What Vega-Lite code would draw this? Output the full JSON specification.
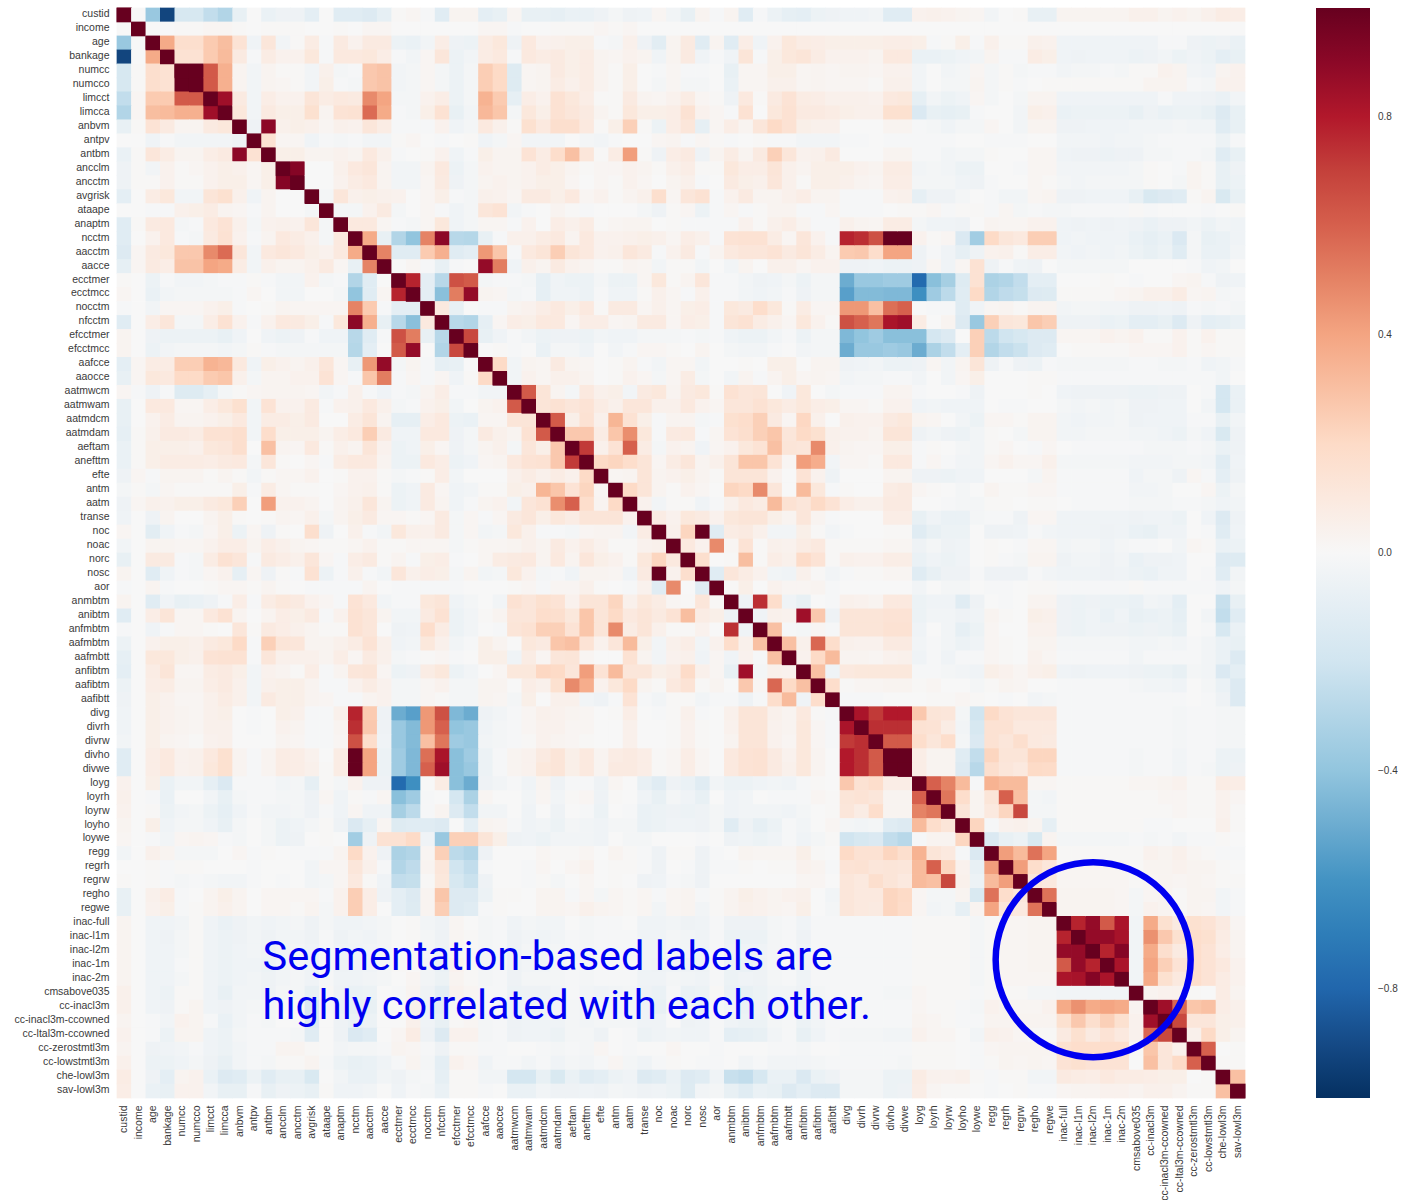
{"$schema":"https://vega.github.io/schema/vega-lite/v6.json","width":1128,"height":1090,"padding":{"left":13,"top":7,"right":0,"bottom":0},"background":"white",
"datasets":{"names":[{"j":1,"col":"custid"},{"j":2,"col":"income"},{"j":3,"col":"age"},{"j":4,"col":"bankage"},{"j":5,"col":"numcc"},{"j":6,"col":"numcco"},{"j":7,"col":"limcct"},{"j":8,"col":"limcca"},{"j":9,"col":"anbvm"},{"j":10,"col":"antpv"},{"j":11,"col":"antbm"},{"j":12,"col":"ancclm"},{"j":13,"col":"ancctm"},{"j":14,"col":"avgrisk"},{"j":15,"col":"ataape"},{"j":16,"col":"anaptm"},{"j":17,"col":"ncctm"},{"j":18,"col":"aacctm"},{"j":19,"col":"aacce"},{"j":20,"col":"ecctmer"},{"j":21,"col":"ecctmcc"},{"j":22,"col":"nocctm"},{"j":23,"col":"nfcctm"},{"j":24,"col":"efcctmer"},{"j":25,"col":"efcctmcc"},{"j":26,"col":"aafcce"},{"j":27,"col":"aaocce"},{"j":28,"col":"aatmwcm"},{"j":29,"col":"aatmwam"},{"j":30,"col":"aatmdcm"},{"j":31,"col":"aatmdam"},{"j":32,"col":"aeftam"},{"j":33,"col":"anefttm"},{"j":34,"col":"efte"},{"j":35,"col":"antm"},{"j":36,"col":"aatm"},{"j":37,"col":"transe"},{"j":38,"col":"noc"},{"j":39,"col":"noac"},{"j":40,"col":"norc"},{"j":41,"col":"nosc"},{"j":42,"col":"aor"},{"j":43,"col":"anmbtm"},{"j":44,"col":"anibtm"},{"j":45,"col":"anfmbtm"},{"j":46,"col":"aafmbtm"},{"j":47,"col":"aafmbtt"},{"j":48,"col":"anfibtm"},{"j":49,"col":"aafibtm"},{"j":50,"col":"aafibtt"},{"j":51,"col":"divg"},{"j":52,"col":"divrh"},{"j":53,"col":"divrw"},{"j":54,"col":"divho"},{"j":55,"col":"divwe"},{"j":56,"col":"loyg"},{"j":57,"col":"loyrh"},{"j":58,"col":"loyrw"},{"j":59,"col":"loyho"},{"j":60,"col":"loywe"},{"j":61,"col":"regg"},{"j":62,"col":"regrh"},{"j":63,"col":"regrw"},{"j":64,"col":"regho"},{"j":65,"col":"regwe"},{"j":66,"col":"inac-full"},{"j":67,"col":"inac-l1m"},{"j":68,"col":"inac-l2m"},{"j":69,"col":"inac-1m"},{"j":70,"col":"inac-2m"},{"j":71,"col":"cmsabove035"},{"j":72,"col":"cc-inacl3m"},{"j":73,"col":"cc-inacl3m-ccowned"},{"j":74,"col":"cc-ltal3m-ccowned"},{"j":75,"col":"cc-zerostmtl3m"},{"j":76,"col":"cc-lowstmtl3m"},{"j":77,"col":"che-lowl3m"},{"j":78,"col":"sav-lowl3m"}],
"matrix":[
{"row":"custid","v":[100]},
{"row":"income","v":[0,100]},
{"row":"age","v":[-38,0,100]},
{"row":"bankage","v":[-92,0,38,100]},
{"row":"numcc","v":[-17,1,17,15,100]},
{"row":"numcco","v":[-17,1,17,15,100,100]},
{"row":"limcct","v":[-25,2,26,26,62,62,100]},
{"row":"limcca","v":[-30,2,31,32,36,36,85,100]},
{"row":"anbvm","v":[-8,1,14,9,3,3,9,11,100]},
{"row":"antpv","v":[0,0,-4,-1,-3,-3,-3,-3,-5,100]},
{"row":"antbm","v":[-7,1,12,8,3,3,7,9,90,15,100]},
{"row":"ancclm","v":[-5,1,-3,4,1,2,4,6,5,2,6,100]},
{"row":"ancctm","v":[-5,1,1,4,1,1,4,6,6,2,6,92,100]},
{"row":"avgrisk","v":[-10,0,8,11,-3,-3,13,16,5,-4,3,0,0,100]},
{"row":"ataape","v":[0,0,-1,-1,5,6,8,3,2,-1,3,0,0,-2,100]},
{"row":"anaptm","v":[-12,1,9,10,-2,-1,10,14,5,-2,4,5,4,12,-2,100]},
{"row":"ncctm","v":[-12,0,4,10,-1,-2,9,15,4,-1,3,10,8,5,-2,10,100]},
{"row":"aacctm","v":[-14,2,9,11,27,27,48,57,12,-3,10,12,10,6,4,10,38,100]},
{"row":"aacce","v":[-9,2,9,7,29,29,40,38,8,-3,5,3,3,5,9,2,-8,50,100]},
{"row":"ecctmer","v":[1,0,-6,-1,-3,-3,-2,-1,-1,1,-1,-3,-3,4,-2,-1,-30,-12,0,100]},
{"row":"ecctmcc","v":[2,0,-7,-3,-2,-2,-2,-2,-1,2,0,-3,-3,0,0,-2,-40,-12,2,78,100]},
{"row":"nocctm","v":[-1,0,-3,2,2,2,4,6,-1,0,1,3,2,2,2,2,50,26,-1,-10,-10,100]},
{"row":"nfcctm","v":[-12,0,7,12,-2,-2,7,15,4,-1,4,10,9,6,-1,11,90,36,-8,-28,-42,10,100]},
{"row":"efcctmer","v":[3,0,-5,-6,-6,-6,-6,-8,-4,0,-4,-6,-5,-1,-4,-4,-28,-12,-1,65,52,-8,-28,100]},
{"row":"efcctmcc","v":[3,0,-6,-3,-2,-2,-2,-3,-2,1,-1,-2,-2,-2,-2,-2,-29,-10,0,62,88,0,-30,68,100]},
{"row":"aafcce","v":[-10,2,8,8,25,25,35,33,10,-4,6,4,3,5,12,2,-8,44,88,-2,3,-1,-9,-8,0,100]},
{"row":"aaocce","v":[-8,2,11,10,20,20,26,28,5,-2,3,3,4,4,14,2,-1,28,52,-1,2,-1,2,-4,1,20,100]},
{"row":"aatmwcm","v":[2,-1,-5,-1,-13,-13,-9,-2,1,2,3,3,3,2,-3,-1,5,-1,-4,-1,-2,3,7,-1,-1,-3,-3,100]},
{"row":"aatmwam","v":[-8,0,10,10,2,2,7,11,16,-3,14,4,4,9,-1,4,5,10,5,-2,-1,4,6,-3,0,3,4,62,100]},
{"row":"aatmdcm","v":[-8,0,4,8,3,3,4,6,10,-3,8,8,6,9,0,0,8,13,3,-9,-9,7,10,-6,-7,2,2,13,13,100]},
{"row":"aatmdam","v":[-9,1,5,9,9,8,15,15,17,-3,18,6,6,6,3,7,10,25,9,-4,-4,10,10,-5,-2,9,5,3,15,62,100]},
{"row":"aeftam","v":[-7,1,6,6,6,5,11,12,17,0,30,3,2,10,1,5,3,13,4,-6,-4,6,2,-5,-2,3,5,-2,12,6,27,100]},
{"row":"anefttm","v":[-7,1,6,8,8,8,7,9,10,-2,12,1,0,2,-1,8,10,10,3,-6,-6,10,7,-6,-4,2,3,10,14,15,27,72,100]},
{"row":"efte","v":[-5,2,-1,3,3,3,1,3,1,-3,1,2,2,4,0,1,4,4,1,-2,-1,1,7,-3,0,0,0,5,8,5,8,5,20,100]},
{"row":"antm","v":[-2,1,-2,2,1,1,1,1,6,-1,8,2,1,1,0,2,4,5,1,-6,-4,9,2,-4,-3,1,1,6,5,34,28,14,22,2,100]},
{"row":"aatm","v":[-5,2,5,4,6,6,9,11,24,0,42,4,4,3,0,3,5,12,3,-6,-4,9,3,-4,-1,3,4,-3,12,15,47,60,18,3,20,100]},
{"row":"transe","v":[-4,0,-5,3,0,0,3,6,1,0,1,3,2,5,-2,3,6,9,2,2,1,2,9,-2,2,-1,2,9,12,6,11,8,13,13,13,4,100]},
{"row":"noc","v":[2,0,-11,-4,-1,-2,2,6,-6,2,-5,1,0,17,-5,0,5,-1,-3,11,5,5,9,-2,2,-3,-2,11,5,-1,-1,-2,2,3,3,-3,8,100]},
{"row":"noac","v":[-3,0,3,3,2,2,4,7,7,3,7,5,3,2,1,1,2,4,1,1,2,2,2,-2,1,2,2,3,5,3,9,4,8,4,1,1,4,5,100]},
{"row":"norc","v":[-8,0,9,9,-1,-2,8,15,12,-1,9,7,5,12,2,-1,7,9,1,3,-1,6,7,-1,0,2,8,9,10,3,10,3,12,6,4,1,11,22,10,100]},
{"row":"nosc","v":[3,0,-12,-4,-1,-2,2,4,-9,2,-5,1,-1,15,-6,-1,5,-1,-3,12,5,7,6,-2,3,-3,-2,11,4,-2,-1,-4,3,3,2,-4,9,100,4,17,100]},
{"row":"aor","v":[-1,0,3,-1,0,0,1,2,2,1,3,1,0,-1,-1,-1,-1,3,0,-1,-1,-1,-1,-1,0,0,0,1,2,-1,2,2,5,1,0,-1,4,-12,48,0,-12,100]},
{"row":"anmbtm","v":[3,0,-12,-4,-8,-7,-5,-1,7,-1,8,11,9,4,2,-1,14,10,-3,-1,-1,11,13,-4,-2,0,-3,15,12,16,14,4,13,13,22,5,11,8,2,1,12,1,100]},
{"row":"anibtm","v":[-12,0,7,13,2,2,10,15,3,0,3,7,6,9,-1,4,15,12,3,-3,-3,9,15,-6,-3,1,3,12,12,18,17,11,28,13,20,10,13,9,14,31,8,6,-5,100]},
{"row":"anfmbtm","v":[-1,0,-4,-1,2,2,1,0,12,1,9,7,5,3,1,1,15,12,0,-5,-4,18,8,-6,-3,0,-1,13,15,24,24,14,28,13,48,8,13,5,1,1,4,0,75,-4,100]},
{"row":"aafmbtm","v":[-6,0,4,6,6,5,9,11,20,-1,24,13,12,3,3,5,8,14,5,-4,-3,11,5,-3,-1,6,3,0,11,9,28,30,14,4,12,32,6,-3,5,7,-3,4,18,5,30,100]},
{"row":"aafmbtt","v":[-9,0,11,11,6,5,14,15,15,-1,12,5,5,5,3,7,2,9,5,-2,-1,1,2,-1,0,6,6,-4,8,2,12,13,2,0,0,15,3,-3,4,5,-4,2,-4,4,-1,30,100]},
{"row":"anfibtm","v":[-10,0,8,13,2,2,8,9,6,-3,4,3,1,7,-1,3,12,13,2,-6,-5,8,11,-6,-3,0,2,11,11,21,20,12,42,14,32,12,12,6,8,19,5,2,-8,85,-2,5,4,100]},
{"row":"aafibtm","v":[-6,0,7,8,3,3,7,9,5,-3,5,6,6,3,-1,-1,4,8,4,-2,-2,2,4,-2,-2,3,3,0,7,5,16,48,37,4,11,20,3,1,10,14,1,3,0,27,2,58,20,30,100]},
{"row":"aafibtt","v":[-5,0,6,4,2,2,5,8,5,-3,9,6,6,3,2,-1,-1,3,4,-2,-2,2,1,-2,-2,3,2,-2,6,0,5,5,-3,-5,-1,14,-1,-3,1,1,-3,-1,-1,-5,-1,18,32,-4,18,100]},
{"row":"divg","v":[-4,0,6,4,3,2,5,6,0,-1,0,6,5,-1,-1,5,78,26,-5,-50,-55,44,65,-45,-50,-5,-3,-1,2,5,4,3,2,0,1,7,0,-1,1,5,-1,0,5,13,13,5,3,10,1,-1,100]},
{"row":"divrh","v":[-4,0,6,4,3,2,5,5,0,-1,0,4,3,-1,-1,3,75,27,-5,-38,-44,44,60,-40,-38,-4,-2,-1,2,4,4,2,2,0,0,5,0,0,1,4,1,0,4,13,13,4,3,11,2,-1,82,100]},
{"row":"divrw","v":[-3,0,6,3,2,1,4,5,0,0,0,3,2,-1,-1,2,65,18,-4,-38,-44,30,54,-36,-38,-3,-2,-1,1,4,3,2,1,0,0,5,0,0,1,4,1,0,3,13,13,4,2,11,2,-1,72,75,100]},
{"row":"divho","v":[-12,0,7,10,4,5,10,16,3,-1,3,8,7,4,0,8,100,40,-6,-36,-45,56,82,-42,-36,-6,-1,3,4,9,13,6,10,3,8,9,7,1,2,7,2,0,10,14,15,9,4,11,3,0,80,75,62,100]},
{"row":"divwe","v":[-12,0,7,10,4,5,11,16,3,-1,3,8,7,5,1,8,100,40,-6,-36,-45,60,85,-42,-38,-6,-1,3,4,11,13,6,10,3,9,9,7,1,2,7,2,0,10,14,15,9,5,11,3,0,80,75,62,100,100]},
{"row":"loyg","v":[4,0,6,-7,-3,-3,-9,-15,-1,-1,-1,-3,-2,-9,1,-2,4,-5,-5,-78,-62,0,8,-42,-50,-5,-3,-1,-4,3,-5,-1,-1,-5,2,0,-8,-12,-5,-7,-12,-3,-6,-6,-4,-3,-4,-1,1,0,27,15,18,7,7,100]},
{"row":"loyrh","v":[5,0,-1,-7,0,0,-3,-8,-2,-1,-1,-2,-2,-5,2,-4,1,-1,2,-42,-36,-1,0,-18,-32,2,0,0,-3,2,-3,1,2,-5,1,0,-4,-8,-2,-4,-8,0,-4,-3,0,-1,-1,-1,2,1,13,14,12,3,3,60,100]},
{"row":"loyrw","v":[4,0,1,-6,-3,-2,-6,-9,-4,-1,-3,-3,-2,-5,-1,-4,2,-4,-4,-34,-27,-1,3,-14,-25,-3,-3,0,-4,0,-5,0,-1,-6,0,-1,-7,-6,-5,-6,-5,-2,-4,-3,-3,-3,-4,-2,0,1,12,8,18,3,3,50,54,100]},
{"row":"loyho","v":[3,0,6,-4,-2,-2,-4,-8,-2,0,-2,-6,-4,-2,1,-5,-15,-9,2,-13,-12,-12,-14,0,-10,3,2,-1,-4,-3,-6,-2,-3,-4,-2,-2,-7,-6,-4,-4,-5,-2,-12,-5,-9,-6,-1,-3,0,2,-2,-3,-2,-12,-14,32,18,13,100]},
{"row":"loywe","v":[2,0,-1,-3,2,3,2,-1,-2,0,-2,-6,-5,0,1,0,-35,-5,15,15,20,-4,-38,24,24,13,6,-5,-4,-6,-3,-3,-3,-4,0,-2,-2,0,0,0,-1,0,-5,-4,-6,-4,-1,-4,-2,1,-20,-17,-15,-25,-28,-1,3,3,22,100]},
{"row":"regg","v":[-3,0,5,3,-2,-2,-2,0,2,-1,1,0,-1,-1,-1,3,20,4,-5,-32,-30,2,24,-27,-30,-5,0,0,0,2,1,1,2,0,3,1,-1,-5,1,1,-5,-1,0,3,2,2,2,6,1,0,20,15,15,22,17,35,13,10,-1,-15,100]},
{"row":"regrh","v":[0,0,1,-1,1,1,0,0,0,-1,0,0,0,-3,2,2,12,5,-1,-30,-26,3,12,-20,-25,-1,0,0,-1,2,0,2,4,0,1,1,-1,-5,0,-1,-5,-1,-1,1,0,1,1,4,3,-1,14,15,12,13,12,32,60,22,4,-8,42,100]},
{"row":"regrw","v":[1,0,1,-1,-2,-1,-2,-3,-3,-1,0,-1,0,-3,-2,2,10,1,-4,-25,-24,1,11,-17,-22,-5,0,0,-1,1,-2,0,2,0,1,0,-5,-4,-1,-2,-5,0,0,0,0,0,0,2,2,0,12,10,17,13,10,32,30,68,5,-6,32,42,100]},
{"row":"regho","v":[-8,0,5,8,-1,0,3,6,3,0,2,2,2,2,-1,4,25,7,-5,-10,-14,3,28,-14,-14,-6,1,1,0,3,3,-1,2,-2,2,1,2,-1,2,3,-1,1,3,6,4,3,4,5,0,-3,12,10,10,22,20,2,-2,-2,3,-16,55,18,12,100]},
{"row":"regwe","v":[-8,0,4,6,-1,1,3,5,3,0,2,2,1,3,-2,4,25,7,0,-10,-13,3,25,-14,-12,-1,1,0,0,3,3,2,5,3,2,1,2,-3,2,3,-3,1,3,5,4,3,2,6,0,-2,12,10,9,22,19,2,-3,-2,-9,3,40,12,10,55,100]},
{"row":"inac-full","v":[3,0,-4,-4,-3,1,-4,-7,-5,-3,-4,-3,-2,-5,-2,-4,-4,-3,-2,0,1,-3,-5,2,0,-2,-1,-4,-2,-3,-3,0,-2,-1,-1,0,-4,-4,-3,-5,-4,-1,-5,-5,-5,-2,-1,-4,-1,-1,-1,-1,-1,-1,-1,1,1,1,1,-2,1,2,2,3,3,100]},
{"row":"inac-l1m","v":[3,0,-4,-5,-2,1,-4,-6,-5,-3,-5,-3,-3,-5,-1,-5,-3,-4,-2,0,1,-2,-5,2,1,-2,-1,-5,-3,-4,-3,-1,-2,-1,-1,-1,-4,-4,-2,-3,-4,-1,-6,-6,-6,-2,-1,-5,-1,-1,-1,-1,-1,-1,-1,1,1,1,1,-2,1,2,2,3,3,78,100]},
{"row":"inac-l2m","v":[3,0,-4,-4,-2,1,-4,-6,-4,-3,-5,-3,-2,-4,-1,-4,-4,-3,-2,0,1,-2,-5,2,1,-2,-1,-5,-2,-3,-2,-1,-2,-1,-1,-1,-4,-4,-2,-3,-4,-1,-5,-4,-4,-2,-1,-4,-1,-1,-1,-1,-1,-1,-1,1,1,1,1,-2,1,2,2,3,3,88,88,100]},
{"row":"inac-1m","v":[3,0,-4,-4,-1,1,-4,-6,-4,-4,-6,-3,-2,-4,-1,-5,-4,-4,-2,1,1,-3,-7,4,1,-2,-1,-5,-3,-3,-2,-1,-2,-1,-1,-1,-4,-5,-4,-5,-5,-1,-6,-7,-5,-2,-1,-4,-1,-1,-1,-1,-1,-1,-1,1,1,1,1,-2,1,2,2,3,3,62,88,78,100]},
{"row":"inac-2m","v":[3,0,-4,-4,-2,1,-4,-6,-4,-3,-5,-3,-2,-4,-1,-4,-4,-3,-2,0,2,-3,-6,3,1,-2,-1,-5,-2,-2,-2,-1,-2,-1,-1,-1,-4,-4,-2,-3,-4,-1,-6,-4,-5,-2,-1,-4,-1,-1,-1,-1,-1,-1,-1,1,1,1,1,-2,1,2,2,2,2,82,83,92,82,100]},
{"row":"cmsabove035","v":[5,0,-4,-6,1,1,-4,-8,-3,-3,-5,-2,-2,-8,1,-5,-7,-6,0,-1,3,-5,-10,4,2,-1,-1,-6,-5,-5,-3,-1,-3,-4,-3,-2,-5,-7,-1,-7,-6,1,-7,-8,-6,-3,-3,-5,-2,-1,-1,-1,-1,-2,-2,2,1,1,1,-1,1,1,1,-2,-2,-3,-3,-3,-3,-3,100]},
{"row":"cc-inacl3m","v":[5,0,-4,-5,1,3,-4,-5,-3,-2,-2,1,1,-16,-1,-7,-9,-8,0,0,5,-5,-10,1,2,-1,-1,-6,-5,-4,-3,-2,-3,-2,-3,-2,-4,-8,-1,-5,-7,-1,-3,-7,-5,-3,-1,-6,-3,-1,-1,-1,-1,-1,-1,2,1,1,-1,-2,4,3,2,2,4,38,46,38,40,38,3,100]},
{"row":"cc-inacl3m-ccowned","v":[3,0,-1,-3,4,3,-1,-7,-3,-1,-2,0,0,-14,0,-5,-7,-6,0,0,5,-4,-8,1,2,-2,-1,-5,-4,-4,-4,-2,-3,-2,-2,-2,-4,-4,0,-5,-4,-1,-4,-6,-6,-2,-1,-6,-3,-1,-1,-1,-1,-1,-1,3,2,1,-1,-1,3,3,3,3,3,16,27,17,24,16,4,85,100]},
{"row":"cc-ltal3m-ccowned","v":[4,0,-1,-6,3,3,-4,-6,-2,-1,-1,-1,-2,-12,0,-5,-15,-12,0,2,8,-5,-14,4,4,-2,-1,-5,-4,-4,-6,-2,-2,-5,0,-1,-6,-4,-3,-4,-4,-1,-10,-9,-8,-3,-1,-8,-4,-1,-2,-2,-2,-3,-3,4,2,2,0,-3,5,4,2,1,1,9,16,9,14,10,4,58,68,100]},
{"row":"cc-zerostmtl3m","v":[3,0,-5,-4,-3,-1,-4,-6,-3,-1,-1,3,3,1,0,-3,-2,-2,-1,3,2,-1,-5,1,1,-1,-1,0,0,-1,-2,-1,-2,2,0,-1,0,0,2,0,0,-1,0,0,0,-1,-1,-2,0,0,-1,-1,-1,-1,-1,1,1,1,0,-1,2,3,3,3,3,16,18,18,18,18,1,28,12,5,100]},
{"row":"cc-lowstmtl3m","v":[5,0,-6,-6,-4,-2,-5,-8,-3,-1,-2,1,1,3,-1,-6,-8,-7,-4,-1,3,-2,-10,4,2,-4,-1,-1,-3,-1,-4,-2,-3,-1,2,-2,-4,-1,1,0,-1,-1,0,-3,-1,-3,-3,-3,-2,-1,-1,-1,-1,-1,-2,1,1,1,0,-1,1,3,2,3,2,14,16,14,14,14,0,30,12,20,60,100]},
{"row":"che-lowl3m","v":[8,0,-5,-10,3,4,-7,-14,-12,-6,-12,-8,-8,-16,0,-3,-7,-7,-3,-5,-2,-1,-9,1,1,-3,-3,-18,-18,-8,-16,-7,-12,-10,-6,-4,-14,-12,-7,-14,-12,-4,-23,-25,-17,-7,-7,-15,-7,-5,-2,-2,-2,-6,-6,8,4,4,5,1,-1,1,1,-3,-3,9,8,7,10,8,8,7,6,6,0,1,100]},
{"row":"sav-lowl3m","v":[7,0,-7,-8,4,4,-3,-8,-8,-1,-8,-5,-6,-8,1,-4,-4,-3,0,-4,-1,-2,-7,1,1,-1,0,-7,-7,-3,-5,-5,-4,-5,-2,-3,-5,-4,-6,-13,-3,-2,-8,-12,-7,-8,-14,-10,-14,-14,-2,-2,-2,-6,-5,7,2,1,1,0,-1,0,1,-1,-1,2,3,3,4,4,3,5,5,3,1,1,30,100]}
]},
"encoding":{"x":{"field":"col","type":"nominal","title":null,"scale":{"paddingInner":0,"paddingOuter":0,"domain":["custid","income","age","bankage","numcc","numcco","limcct","limcca","anbvm","antpv","antbm","ancclm","ancctm","avgrisk","ataape","anaptm","ncctm","aacctm","aacce","ecctmer","ecctmcc","nocctm","nfcctm","efcctmer","efcctmcc","aafcce","aaocce","aatmwcm","aatmwam","aatmdcm","aatmdam","aeftam","anefttm","efte","antm","aatm","transe","noc","noac","norc","nosc","aor","anmbtm","anibtm","anfmbtm","aafmbtm","aafmbtt","anfibtm","aafibtm","aafibtt","divg","divrh","divrw","divho","divwe","loyg","loyrh","loyrw","loyho","loywe","regg","regrh","regrw","regho","regwe","inac-full","inac-l1m","inac-l2m","inac-1m","inac-2m","cmsabove035","cc-inacl3m","cc-inacl3m-ccowned","cc-ltal3m-ccowned","cc-zerostmtl3m","cc-lowstmtl3m","che-lowl3m","sav-lowl3m"]},"axis":{"labelAngle":-90,"labelFontSize":10.5,"labelFont":"Liberation Sans","labelColor":"#3a3a3a","ticks":false,"domain":false,"grid":false,"labelPadding":7,"labelOverlap":false}},
"y":{"field":"row","type":"nominal","title":null,"scale":{"paddingInner":0,"paddingOuter":0,"domain":["custid","income","age","bankage","numcc","numcco","limcct","limcca","anbvm","antpv","antbm","ancclm","ancctm","avgrisk","ataape","anaptm","ncctm","aacctm","aacce","ecctmer","ecctmcc","nocctm","nfcctm","efcctmer","efcctmcc","aafcce","aaocce","aatmwcm","aatmwam","aatmdcm","aatmdam","aeftam","anefttm","efte","antm","aatm","transe","noc","noac","norc","nosc","aor","anmbtm","anibtm","anfmbtm","aafmbtm","aafmbtt","anfibtm","aafibtm","aafibtt","divg","divrh","divrw","divho","divwe","loyg","loyrh","loyrw","loyho","loywe","regg","regrh","regrw","regho","regwe","inac-full","inac-l1m","inac-l2m","inac-1m","inac-2m","cmsabove035","cc-inacl3m","cc-inacl3m-ccowned","cc-ltal3m-ccowned","cc-zerostmtl3m","cc-lowstmtl3m","che-lowl3m","sav-lowl3m"]},"axis":{"labelFontSize":10.5,"labelFont":"Liberation Sans","labelColor":"#3a3a3a","ticks":false,"domain":false,"grid":false,"labelPadding":8,"labelOffset":-1,"labelOverlap":false}}},
"layer":[
{"data":{"name":"matrix"},"transform":[{"flatten":["v"]},{"window":[{"op":"row_number","as":"j"}],"groupby":["row"]},{"lookup":"j","from":{"data":{"name":"names"},"key":"j","fields":["col"]}}],
"mark":{"type":"rect","width":{"band":1.05},"height":{"band":1.05}},
"encoding":{"color":{"field":"v","type":"quantitative","title":null,"scale":{"domain":[-100,-80,-60,-40,-20,0,20,40,60,80,100],"range":["#053061","#2166ac","#4393c3","#92c5de","#d1e5f0","#f7f7f7","#fddbc7","#f4a582","#d6604d","#b2182b","#67001f"]},"legend":{"orient":"none","legendX":1199,"legendY":0,"gradientLength":1090,"gradientThickness":54,"values":[-80,-40,0,40,80],"labelExpr":"format(datum.value/100,'.1f')","labelFontSize":10,"labelFont":"Liberation Sans","labelColor":"#3a3a3a","labelOffset":8,"title":null}}}},
{"data":{"name":"matrix"},"transform":[{"flatten":["v"]},{"window":[{"op":"row_number","as":"j"}],"groupby":["row"]},{"lookup":"j","from":{"data":{"name":"names"},"key":"j","fields":["col"]}}],
"mark":{"type":"rect","width":{"band":1.05},"height":{"band":1.05}},
"encoding":{"x":{"field":"row","type":"nominal","title":null,"scale":{"paddingInner":0,"paddingOuter":0,"domain":["custid","income","age","bankage","numcc","numcco","limcct","limcca","anbvm","antpv","antbm","ancclm","ancctm","avgrisk","ataape","anaptm","ncctm","aacctm","aacce","ecctmer","ecctmcc","nocctm","nfcctm","efcctmer","efcctmcc","aafcce","aaocce","aatmwcm","aatmwam","aatmdcm","aatmdam","aeftam","anefttm","efte","antm","aatm","transe","noc","noac","norc","nosc","aor","anmbtm","anibtm","anfmbtm","aafmbtm","aafmbtt","anfibtm","aafibtm","aafibtt","divg","divrh","divrw","divho","divwe","loyg","loyrh","loyrw","loyho","loywe","regg","regrh","regrw","regho","regwe","inac-full","inac-l1m","inac-l2m","inac-1m","inac-2m","cmsabove035","cc-inacl3m","cc-inacl3m-ccowned","cc-ltal3m-ccowned","cc-zerostmtl3m","cc-lowstmtl3m","che-lowl3m","sav-lowl3m"]}},"y":{"field":"col","type":"nominal","title":null,"scale":{"paddingInner":0,"paddingOuter":0,"domain":["custid","income","age","bankage","numcc","numcco","limcct","limcca","anbvm","antpv","antbm","ancclm","ancctm","avgrisk","ataape","anaptm","ncctm","aacctm","aacce","ecctmer","ecctmcc","nocctm","nfcctm","efcctmer","efcctmcc","aafcce","aaocce","aatmwcm","aatmwam","aatmdcm","aatmdam","aeftam","anefttm","efte","antm","aatm","transe","noc","noac","norc","nosc","aor","anmbtm","anibtm","anfmbtm","aafmbtm","aafmbtt","anfibtm","aafibtm","aafibtt","divg","divrh","divrw","divho","divwe","loyg","loyrh","loyrw","loyho","loywe","regg","regrh","regrw","regho","regwe","inac-full","inac-l1m","inac-l2m","inac-1m","inac-2m","cmsabove035","cc-inacl3m","cc-inacl3m-ccowned","cc-ltal3m-ccowned","cc-zerostmtl3m","cc-lowstmtl3m","che-lowl3m","sav-lowl3m"]}},"color":{"field":"v","type":"quantitative","legend":null,"scale":{"domain":[-100,-80,-60,-40,-20,0,20,40,60,80,100],"range":["#053061","#2166ac","#4393c3","#92c5de","#d1e5f0","#f7f7f7","#fddbc7","#f4a582","#d6604d","#b2182b","#67001f"]}}}},
{"data":{"values":[{"col":"antbm","row":"inac-1m","label":"Segmentation-based labels are"}]},"mark":{"type":"text","align":"left","baseline":"alphabetic","fontSize":41.5,"font":"Roboto","color":"#0000f0","dy":-2,"dx":1},"encoding":{"x":{"field":"col","type":"nominal","bandPosition":0},"y":{"field":"row","type":"nominal","bandPosition":1},"text":{"field":"label"}}},
{"data":{"values":[{"col":"antbm","row":"cc-inacl3m-ccowned","label":"highly correlated with each other."}]},"mark":{"type":"text","align":"left","baseline":"alphabetic","fontSize":41.5,"font":"Roboto","color":"#0000f0","dy":-2,"dx":1},"encoding":{"x":{"field":"col","type":"nominal","bandPosition":0},"y":{"field":"row","type":"nominal","bandPosition":0.5},"text":{"field":"label"}}},
{"data":{"values":[{"col":"inac-l2m","row":"inac-1m"}]},"mark":{"type":"point","shape":"circle","filled":false,"size":38025,"stroke":"#0000f0","strokeWidth":6.5,"opacity":1},"encoding":{"y":{"field":"row","type":"nominal","bandPosition":0.1}}}
],
"config":{"view":{"stroke":null}}}
